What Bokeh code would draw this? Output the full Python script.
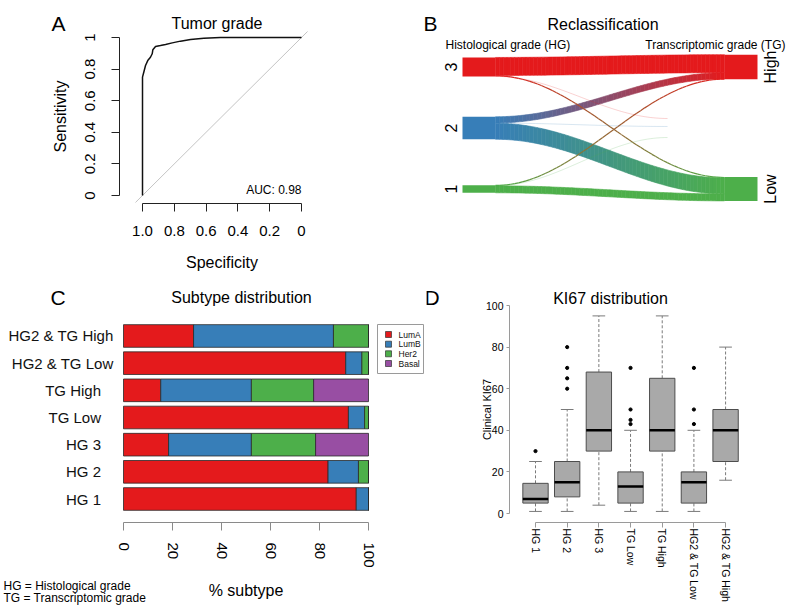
import math
import numpy as np
from bokeh.plotting import figure
from bokeh.models import Range1d, FixedTicker
from bokeh.layouts import row, column
from bokeh.embed import file_html
from bokeh.resources import INLINE
from bokeh.core.properties import value

FONT = "Liberation Sans"

# ---------------- data ----------------
# Panel A: ROC curve (specificity, sensitivity)
roc_specificity = [1.0, 1.0, 0.992, 0.981, 0.967, 0.950, 0.939, 0.935, 0.918, 0.887,
                   0.855, 0.813, 0.761, 0.698, 0.614, 0.510, 0.300, 0.0]
roc_sensitivity = [0.0, 0.749, 0.780, 0.823, 0.854, 0.875, 0.897, 0.922, 0.943, 0.949,
                   0.956, 0.966, 0.977, 0.987, 0.996, 1.0, 1.0, 1.0]
auc_text = "AUC: 0.98"
spec_ticks = [1.0, 0.8, 0.6, 0.4, 0.2, 0.0]
spec_tick_labels = ["1.0", "0.8", "0.6", "0.4", "0.2", "0"]
sens_ticks = [0.0, 0.2, 0.4, 0.6, 0.8, 1.0]
sens_tick_labels = ["0", "0.2", "0.4", "0.6", "0.8", "1"]

# Panel B: reclassification flows (counts)
hg_nodes = ["3", "2", "1"]
tg_nodes = ["High", "Low"]
flow_source = ["3", "3", "3", "2", "2", "2", "1", "1", "1"]
flow_target = ["High", "Low", "NA", "High", "NA", "Low", "High", "NA", "Low"]
flow_count = [180, 8, 3, 62, 3, 160, 4, 2, 70]

# Panel C: subtype distribution (% of samples), bottom to top
subtype_groups = ["HG 1", "HG 2", "HG 3", "TG Low", "TG High", "HG2 & TG Low", "HG2 & TG High"]
subtypes = ["LumA", "LumB", "Her2", "Basal"]
pct_luma = [95.0, 83.5, 18.4, 91.8, 15.2, 90.7, 28.6]
pct_lumb = [5.0, 12.4, 33.8, 6.6, 37.0, 6.6, 57.1]
pct_her2 = [0.0, 4.1, 26.2, 1.6, 25.4, 2.7, 14.3]
pct_basal = [0.0, 0.0, 21.6, 0.0, 22.4, 0.0, 0.0]
pct_ticks = [0, 20, 40, 60, 80, 100]

# Panel D: KI67 boxplot statistics
ki67_groups = ["HG 1", "HG 2", "HG 3", "TG Low", "TG High", "HG2 & TG Low", "HG2 & TG High"]
ki67_lower = [1, 1, 4, 1, 1, 1, 16]
ki67_q1 = [5, 8, 30, 5, 30, 5, 25]
ki67_median = [7, 15, 40, 13, 40, 15, 40]
ki67_q3 = [14.5, 25, 68, 20, 65, 20, 50]
ki67_upper = [25, 50, 95, 40, 95, 40, 80]
ki67_outliers = [[30], [60, 65, 70, 80], [], [43, 45, 50, 70], [], [43, 50, 70], []]
ki67_ticks = [0, 20, 40, 60, 80, 100]

RED, BLUE, GREEN, PURPLE = "#E41A1C", "#377EB8", "#4DAF4A", "#984EA3"


# ---------------- helpers ----------------
class Panel:
    """A figure whose plotting frame fills its canvas, placed at a known page box.
    Axes are pinned inside it with fixed_location."""

    def __init__(self, canvas, xr, yr, axes=True):
        cx0, cy0, cw, ch = canvas
        self.box = (cx0, cx0 + cw, cy0, cy0 + ch)
        self.xr, self.yr = xr, yr
        kw = {} if axes else dict(x_axis_type=None, y_axis_type=None)
        p = figure(width=cw, height=ch, x_range=Range1d(*xr), y_range=Range1d(*yr),
                   toolbar_location=None, output_backend="svg", title=None,
                   min_border_left=0, min_border_right=0, min_border_top=0,
                   min_border_bottom=0, **kw)
        p.outline_line_color = None
        p.background_fill_color = "white"
        p.border_fill_color = "white"
        p.grid.visible = False
        self.p = p

    def dx(self, px):
        fl, fr, ft, fb = self.box
        return self.xr[0] + (px - fl) / (fr - fl) * (self.xr[1] - self.xr[0])

    def dy(self, py):
        fl, fr, ft, fb = self.box
        return self.yr[0] + (fb - py) / (fb - ft) * (self.yr[1] - self.yr[0])

    def text(self, px, py, txt, size, align="left", baseline="alphabetic", angle=0.0, color="black"):
        self.p.text(x=[self.dx(px)], y=[self.dy(py)], text=[txt], angle=angle,
                    text_font=value(FONT), text_font_size=size, text_align=align,
                    text_baseline=baseline, text_color=color)


def style_axis(ax, size, line_color="black", tick_out=8, standoff=10,
               label=None, label_size="16px", label_standoff=8):
    ax.major_label_text_font = FONT
    ax.major_label_text_font_size = size
    ax.major_label_text_color = "black"
    ax.axis_label_text_font = FONT
    ax.axis_label_text_font_style = "normal"
    ax.axis_label_text_font_size = label_size
    ax.axis_label_text_color = "black"
    ax.minor_tick_line_color = None
    ax.major_tick_in = 0
    ax.major_tick_out = tick_out
    ax.major_label_standoff = standoff
    ax.axis_line_color = line_color
    ax.major_tick_line_color = line_color
    if label is not None:
        ax.axis_label = label
        ax.axis_label_standoff = label_standoff


def hex2rgb(h):
    return tuple(int(h[i:i + 2], 16) for i in (1, 3, 5))


def mix(c1, c2, t):
    a, b = hex2rgb(c1), hex2rgb(c2)
    return "#%02x%02x%02x" % tuple(int(round(x + (y - x) * t)) for x, y in zip(a, b))


# ---------------- Panel A ----------------
A = Panel((0, 0, 400, 280), (1.8931, -0.6226), (-0.538, 1.2342))
pA = A.p
ext = 0.044
pA.segment(x0=[1 + ext], y0=[-ext], x1=[-0.038], y1=[1.038], line_color="#C4C4C4", line_width=1)
pA.line(roc_specificity, roc_sensitivity, line_color="#111111", line_width=1.5)
style_axis(pA.xaxis[0], "15px", line_color="#222222", tick_out=8, standoff=14,
           label="Specificity", label_standoff=15)
pA.xaxis.ticker = FixedTicker(ticks=spec_ticks)
pA.xaxis.major_label_overrides = dict(zip(spec_ticks, spec_tick_labels))
pA.xaxis.bounds = (0, 1)
pA.xaxis.fixed_location = A.dy(203)
style_axis(pA.yaxis[0], "15px", line_color="#222222", tick_out=8, standoff=16,
           label="Sensitivity", label_standoff=14)
pA.yaxis.ticker = FixedTicker(ticks=sens_ticks)
pA.yaxis.major_label_overrides = dict(zip(sens_ticks, sens_tick_labels))
pA.yaxis.major_label_orientation = "vertical"
pA.yaxis.bounds = (0, 1)
pA.yaxis.fixed_location = A.dx(119)
pA.text(x=[0.0], y=[0.032], text=[auc_text], text_font=value(FONT), text_font_size="12px",
        text_align="right", text_baseline="alphabetic", text_color="black")
A.text(216.5, 23, "Tumor grade", "16px", align="center")
A.text(51, 23.3, "A", "21px")

# ---------------- Panel B ----------------
B = Panel((400, 0, 386, 280), (-0.21017, 1.09831), (-0.5, 4.0902), axes=False)
pB = B.p
NODE_W = 0.112
NA_X = 0.695
COUNT_SCALE = 1.0 / 610.0
src_y = {"3": 3.0, "2": 2.0, "1": 1.0}
tgt_y = {"High": 3.0, "Low": 1.0}
na_y = {"3": 2.156, "2": 2.025, "1": 1.844}
node_color = {"3": RED, "2": BLUE, "1": GREEN, "High": RED, "Low": GREEN}

src_tot = {s: 0 for s in hg_nodes}
tgt_tot = {t: 0 for t in tg_nodes}
for s, t, c in zip(flow_source, flow_target, flow_count):
    src_tot[s] += c
    if t in tgt_tot:
        tgt_tot[t] += c
src_cur = {s: src_y[s] + src_tot[s] * COUNT_SCALE / 2 for s in hg_nodes}
tgt_cur = {t: tgt_y[t] + tgt_tot[t] * COUNT_SCALE / 2 for t in tg_nodes}

ribbons = []
for s, t, c in zip(flow_source, flow_target, flow_count):
    u = c * COUNT_SCALE
    top0 = src_cur[s]
    src_cur[s] -= u
    if t == "NA":
        top1 = na_y[s] + u / 2
        x1 = NA_X
        c1 = node_color[s]
    else:
        top1 = tgt_cur[t]
        tgt_cur[t] -= u
        x1 = 1 - NODE_W
        c1 = node_color[t]
    ribbons.append(dict(u=u, top0=top0, top1=top1, x0=NODE_W, x1=x1,
                        c0=node_color[s], c1=c1, na=(t == "NA")))

NSL = 60
ribbons.sort(key=lambda r: -r["u"])
for r in ribbons:
    ts = np.linspace(0, 1, NSL + 1)
    xs = r["x0"] + (r["x1"] - r["x0"]) * ts
    sh = (1 - np.cos(np.pi * ts)) / 2
    ytop = r["top0"] + (r["top1"] - r["top0"]) * sh
    ybot = ytop - r["u"]
    px_thick = r["u"] * 61
    cols = [mix(r["c0"], r["c1"], (ts[i] + ts[i + 1]) / 2) for i in range(NSL)]
    if px_thick >= 1.5:
        pxs = [[xs[i], xs[i + 1], xs[i + 1], xs[i]] for i in range(NSL)]
        pys = [[ytop[i], ytop[i + 1], ybot[i + 1], ybot[i]] for i in range(NSL)]
        pB.patches(pxs, pys, fill_color=cols, line_color=cols, line_width=0.6)
    else:
        ymid = ytop - r["u"] / 2
        pB.segment(x0=xs[:-1], y0=ymid[:-1], x1=xs[1:], y1=ymid[1:], line_color=cols,
                   line_width=0.9 if r["na"] else 1.2,
                   line_alpha=0.22 if r["na"] else 1.0)

pB.quad(left=[0.0] * 3, right=[NODE_W] * 3,
        top=[src_y[s] + src_tot[s] * COUNT_SCALE / 2 for s in hg_nodes],
        bottom=[src_y[s] - src_tot[s] * COUNT_SCALE / 2 for s in hg_nodes],
        fill_color=[node_color[s] for s in hg_nodes], line_color=None)
pB.quad(left=[1 - NODE_W] * 2, right=[1.0] * 2,
        top=[tgt_y[t] + tgt_tot[t] * COUNT_SCALE / 2 for t in tg_nodes],
        bottom=[tgt_y[t] - tgt_tot[t] * COUNT_SCALE / 2 for t in tg_nodes],
        fill_color=[node_color[t] for t in tg_nodes], line_color=None)
pB.text(x=[B.dx(450)] * 3, y=[src_y[s] for s in hg_nodes], text=hg_nodes, angle=math.pi / 2,
        text_font=value(FONT), text_font_size="16px", text_align="center",
        text_baseline="middle", text_color="black")
pB.text(x=[B.dx(770)] * 2, y=[tgt_y[t] for t in tg_nodes], text=tg_nodes, angle=math.pi / 2,
        text_font=value(FONT), text_font_size="16px", text_align="center",
        text_baseline="middle", text_color="black")
B.text(423, 23.3, "B", "21px")
B.text(602.5, 23.5, "Reclassification", "16px", align="center")
B.text(445, 44, "Histological grade (HG)", "12px")
B.text(785, 44, "Transcriptomic grade (TG)", "12px", align="right")

# ---------------- Panel C ----------------
C = Panel((0, 280, 426, 326), (-50.204, 123.673), (-4.048, 10.351))
pC = C.p
ypos = [0.7 + 1.2 * i for i in range(len(subtype_groups))]
series = [pct_luma, pct_lumb, pct_her2, pct_basal]
colors = [RED, BLUE, GREEN, PURPLE]
left = np.zeros(len(ypos))
for vals, col in zip(series, colors):
    right = left + np.array(vals)
    pC.hbar(y=ypos, height=1.0, left=left, right=right, fill_color=col,
            line_color="#2a2a2a", line_width=0.8)
    left = right
style_axis(pC.yaxis[0], "15px", line_color=None, tick_out=0, standoff=8)
pC.yaxis.ticker = FixedTicker(ticks=ypos)
pad = "\u00a0\u00a0\u00a0"
pC.yaxis.major_label_overrides = {y: (g if "&" in g else g + pad) for y, g in zip(ypos, subtype_groups)}
pC.yaxis.major_label_text_color = "#111111"
pC.yaxis.fixed_location = C.dx(121)
style_axis(pC.xaxis[0], "15px", line_color="#8a8a8a", tick_out=8, standoff=12,
           label="% subtype", label_standoff=11)
pC.xaxis.ticker = FixedTicker(ticks=pct_ticks)
pC.xaxis.major_label_orientation = "vertical"
pC.xaxis.bounds = (0, 100)
pC.xaxis.fixed_location = C.dy(522)
# legend box (to the right of the bars)
pC.quad(left=[C.dx(377)], right=[C.dx(423)], top=[C.dy(324)], bottom=[C.dy(373)],
        fill_color="white", line_color="#9a9a9a", line_width=1)
leg_py = [334, 343.7, 353.3, 363]
pC.scatter(x=[C.dx(388)] * 4, y=[C.dy(v) for v in leg_py], marker="square", size=6,
           fill_color=colors, line_color="#333333", line_width=0.7)
pC.text(x=[C.dx(398)] * 4, y=[C.dy(v) for v in leg_py], text=subtypes,
        text_font=value(FONT), text_font_size="8.5px", text_align="left",
        text_baseline="middle", text_color="#111111")
C.text(241, 296.5, "Subtype distribution", "16px", align="center")
C.text(50, 296.7, "C", "21px")
C.text(3, 585, "HG = Histological grade", "12px")
C.text(3, 597.5, "TG = Transcriptomic grade", "12px")

# ---------------- Panel D ----------------
D = Panel((426, 280, 360, 326), (-2.4407, 8.923), (-44.71, 112.02))
pD = D.p
xs = list(range(1, len(ki67_groups) + 1))
WH = "#7a7a7a"
pD.segment(x0=xs, y0=ki67_q3, x1=xs, y1=ki67_upper, line_color=WH, line_dash="3 2", line_width=1)
pD.segment(x0=xs, y0=ki67_lower, x1=xs, y1=ki67_q1, line_color=WH, line_dash="3 2", line_width=1)
pD.segment(x0=[x - 0.2 for x in xs], y0=ki67_upper, x1=[x + 0.2 for x in xs], y1=ki67_upper,
           line_color=WH, line_width=1)
pD.segment(x0=[x - 0.2 for x in xs], y0=ki67_lower, x1=[x + 0.2 for x in xs], y1=ki67_lower,
           line_color=WH, line_width=1)
pD.vbar(x=xs, width=0.8, bottom=ki67_q1, top=ki67_q3, fill_color="#A9A9A9",
        line_color="#4d4d4d", line_width=1)
pD.segment(x0=[x - 0.4 for x in xs], y0=ki67_median, x1=[x + 0.4 for x in xs], y1=ki67_median,
           line_color="black", line_width=2.5)
ox = [x for x, outs in zip(xs, ki67_outliers) for _ in outs]
oy = [v for outs in ki67_outliers for v in outs]
pD.scatter(ox, oy, size=3.2, color="black")
style_axis(pD.yaxis[0], "10.5px", line_color="#9a9a9a", tick_out=3, standoff=3,
           label="Clinical KI67", label_size="11px", label_standoff=-10)
pD.yaxis.ticker = FixedTicker(ticks=ki67_ticks)
pD.yaxis.bounds = (0, 100)
pD.yaxis.fixed_location = D.dx(509)
style_axis(pD.xaxis[0], "10.5px", line_color="#9a9a9a", tick_out=5, standoff=1)
pD.xaxis.ticker = FixedTicker(ticks=xs)
pD.xaxis.major_label_overrides = dict(zip(xs, ki67_groups))
pD.xaxis.major_label_orientation = "vertical"
pD.xaxis.bounds = (1, len(xs))
pD.xaxis.fixed_location = D.dy(522)
D.text(610, 298, "KI67 distribution", "16px", align="center")
D.text(424, 297, "D", "21px")

layout = column(row(pA, pB), row(pC, pD))
open("out.html", "w").write(file_html(layout, INLINE))
